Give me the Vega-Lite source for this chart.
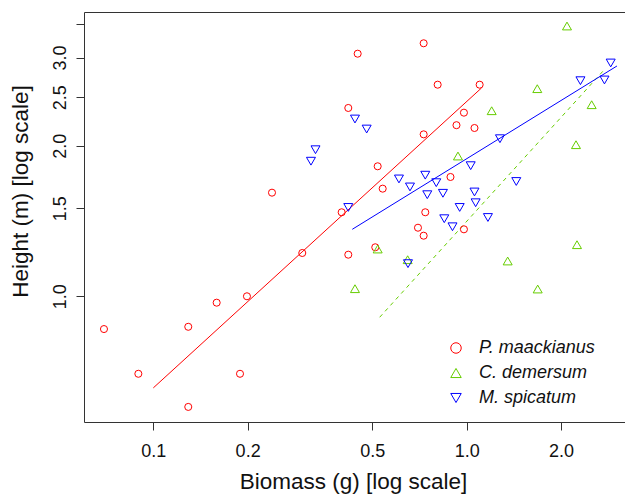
{
  "$schema": "https://vega.github.io/schema/vega-lite/v6.json",
  "width": 542,
  "height": 410,
  "autosize": {"type": "none"},
  "padding": {"left": 84, "top": 12, "right": 0, "bottom": 75},
  "background": "white",
  "config": {
    "view": {"stroke": "#333", "strokeWidth": 1},
    "font": "Liberation Sans",
    "axis": {"domain": false, "grid": false, "tickColor": "#333", "tickSize": 8, "tickWidth": 1, "labelColor": "#111", "titleColor": "#111", "labelFont": "Liberation Sans", "titleFont": "Liberation Sans", "labelFontSize": 18, "titleFontSize": 22.5, "titleFontWeight": "normal"},
    "legend": {"title": null, "orient": "none", "legendX": 363, "legendY": 327, "padding": 0, "rowPadding": 7, "labelOffset": 14, "labelFont": "Liberation Sans", "labelFontSize": 18, "labelFontStyle": "italic", "labelColor": "#111", "symbolStrokeWidth": 1, "symbolSize": 110}
  },
  "datasets": {
    "pts": [
      {"species": "P. maackianus", "biomass": 0.0696, "height": 0.860},
      {"species": "P. maackianus", "biomass": 0.0896, "height": 0.700},
      {"species": "P. maackianus", "biomass": 0.1293, "height": 0.869},
      {"species": "P. maackianus", "biomass": 0.1293, "height": 0.601},
      {"species": "P. maackianus", "biomass": 0.1593, "height": 0.971},
      {"species": "P. maackianus", "biomass": 0.1891, "height": 0.700},
      {"species": "P. maackianus", "biomass": 0.1990, "height": 1.000},
      {"species": "P. maackianus", "biomass": 0.2392, "height": 1.611},
      {"species": "P. maackianus", "biomass": 0.2988, "height": 1.2205},
      {"species": "P. maackianus", "biomass": 0.3991, "height": 1.472},
      {"species": "P. maackianus", "biomass": 0.419, "height": 1.211},
      {"species": "P. maackianus", "biomass": 0.419, "height": 2.379},
      {"species": "P. maackianus", "biomass": 0.4489, "height": 3.054},
      {"species": "P. maackianus", "biomass": 0.520, "height": 1.819},
      {"species": "P. maackianus", "biomass": 0.5109, "height": 1.253},
      {"species": "P. maackianus", "biomass": 0.5395, "height": 1.641},
      {"species": "P. maackianus", "biomass": 0.729, "height": 3.204},
      {"species": "P. maackianus", "biomass": 0.729, "height": 2.107},
      {"species": "P. maackianus", "biomass": 0.7377, "height": 1.472},
      {"species": "P. maackianus", "biomass": 0.6992, "height": 1.371},
      {"species": "P. maackianus", "biomass": 0.729, "height": 1.3216},
      {"species": "P. maackianus", "biomass": 0.808, "height": 2.648},
      {"species": "P. maackianus", "biomass": 0.8878, "height": 1.7316},
      {"species": "P. maackianus", "biomass": 0.9278, "height": 2.1977},
      {"species": "P. maackianus", "biomass": 0.980, "height": 2.328},
      {"species": "P. maackianus", "biomass": 1.059, "height": 2.1695},
      {"species": "P. maackianus", "biomass": 1.100, "height": 2.648},
      {"species": "P. maackianus", "biomass": 0.980, "height": 1.361},
      {"species": "C. demersum", "biomass": 2.0897, "height": 3.469},
      {"species": "C. demersum", "biomass": 1.680, "height": 2.600},
      {"species": "C. demersum", "biomass": 1.2017, "height": 2.349},
      {"species": "C. demersum", "biomass": 2.505, "height": 2.415},
      {"species": "C. demersum", "biomass": 2.2326, "height": 2.009},
      {"species": "C. demersum", "biomass": 0.938, "height": 1.907},
      {"species": "C. demersum", "biomass": 2.249, "height": 1.268},
      {"species": "C. demersum", "biomass": 1.3515, "height": 1.1764},
      {"species": "C. demersum", "biomass": 1.685, "height": 1.034},
      {"species": "C. demersum", "biomass": 0.520, "height": 1.243},
      {"species": "C. demersum", "biomass": 0.6482, "height": 1.1834},
      {"species": "C. demersum", "biomass": 0.4401, "height": 1.0356},
      {"species": "M. spicatum", "biomass": 0.3185, "height": 1.862},
      {"species": "M. spicatum", "biomass": 0.3293, "height": 1.963},
      {"species": "M. spicatum", "biomass": 0.419, "height": 1.505},
      {"species": "M. spicatum", "biomass": 0.4401, "height": 2.261},
      {"species": "M. spicatum", "biomass": 0.4796, "height": 2.159},
      {"species": "M. spicatum", "biomass": 0.608, "height": 1.716},
      {"species": "M. spicatum", "biomass": 0.6593, "height": 1.654},
      {"species": "M. spicatum", "biomass": 0.7377, "height": 1.746},
      {"species": "M. spicatum", "biomass": 0.7486, "height": 1.596},
      {"species": "M. spicatum", "biomass": 0.7998, "height": 1.6867},
      {"species": "M. spicatum", "biomass": 0.840, "height": 1.6064},
      {"species": "M. spicatum", "biomass": 0.8482, "height": 1.429},
      {"species": "M. spicatum", "biomass": 0.901, "height": 1.377},
      {"species": "M. spicatum", "biomass": 0.950, "height": 1.505},
      {"species": "M. spicatum", "biomass": 1.030, "height": 1.824},
      {"species": "M. spicatum", "biomass": 1.059, "height": 1.616},
      {"species": "M. spicatum", "biomass": 1.068, "height": 1.538},
      {"species": "M. spicatum", "biomass": 1.169, "height": 1.437},
      {"species": "M. spicatum", "biomass": 1.277, "height": 2.065},
      {"species": "M. spicatum", "biomass": 1.4397, "height": 1.696},
      {"species": "M. spicatum", "biomass": 2.307, "height": 2.697},
      {"species": "M. spicatum", "biomass": 2.752, "height": 2.706},
      {"species": "M. spicatum", "biomass": 2.881, "height": 2.926},
      {"species": "M. spicatum", "biomass": 0.6497, "height": 1.162}
    ],
    "fits": [
      {"species": "P. maackianus", "biomass": 0.1, "height": 0.656},
      {"species": "P. maackianus", "biomass": 1.115, "height": 2.608},
      {"species": "C. demersum", "biomass": 0.5277, "height": 0.908},
      {"species": "C. demersum", "biomass": 2.757, "height": 2.843},
      {"species": "M. spicatum", "biomass": 0.4315, "height": 1.361},
      {"species": "M. spicatum", "biomass": 3.017, "height": 2.886}
    ]
  },
  "encoding": {
    "x": {
      "field": "biomass", "type": "quantitative",
      "scale": {"type": "log", "domain": [0.0601, 3.224], "nice": false, "zero": false},
      "axis": {"values": [0.1, 0.2, 0.5, 1, 2], "labelExpr": "format(datum.value, '.1f')", "labelBaseline": "top", "labelPadding": 12, "title": "Biomass (g) [log scale]", "titleBaseline": "alphabetic", "titleX": 269, "titleY": 66, "titleAnchor": "middle", "titleAlign": "center"}
    },
    "y": {
      "field": "height", "type": "quantitative",
      "scale": {"type": "log", "domain": [0.5607, 3.7], "nice": false, "zero": false},
      "axis": {"values": [1, 1.5, 2, 2.5, 3, 3.5], "labelExpr": "datum.value == 3.5 ? '' : format(datum.value, '.1f')", "labelAngle": -90, "labelAlign": "center", "labelBaseline": "alphabetic", "labelPadding": 11, "title": "Height (m) [log scale]", "titleAngle": -90, "titleBaseline": "alphabetic", "titleAlign": "center", "titleX": -57, "titleY": 179}
    }
  },
  "layer": [
    {
      "data": {"name": "fits"},
      "transform": [{"filter": "datum.species == 'P. maackianus'"}],
      "mark": {"type": "line", "strokeWidth": 1, "color": "#ff0000"},
      "encoding": {}
    },
    {
      "data": {"name": "fits"},
      "transform": [{"filter": "datum.species == 'C. demersum'"}],
      "mark": {"type": "line", "strokeWidth": 1, "color": "#66cd00", "strokeDash": [4, 4]},
      "encoding": {}
    },
    {
      "data": {"name": "fits"},
      "transform": [{"filter": "datum.species == 'M. spicatum'"}],
      "mark": {"type": "line", "strokeWidth": 1, "color": "#0000ff"},
      "encoding": {}
    },
    {
      "data": {"name": "pts"},
      "transform": [{"filter": "datum.species == 'P. maackianus'"}],
      "mark": {"type": "point", "filled": false, "strokeWidth": 1, "opacity": 1, "size": 50},
      "encoding": {
        "color": {"field": "species", "type": "nominal", "scale": {"domain": ["P. maackianus", "C. demersum", "M. spicatum"], "range": ["#ff0000", "#66cd00", "#0000ff"]}},
        "shape": {"field": "species", "type": "nominal", "scale": {"domain": ["P. maackianus", "C. demersum", "M. spicatum"], "range": ["circle", "triangle-up", "triangle-down"]}}
      }
    },
    {
      "data": {"name": "pts"},
      "transform": [{"filter": "datum.species != 'P. maackianus'"}],
      "mark": {"type": "point", "filled": false, "strokeWidth": 1, "opacity": 1, "size": 81},
      "encoding": {
        "color": {"field": "species", "type": "nominal", "scale": {"domain": ["P. maackianus", "C. demersum", "M. spicatum"], "range": ["#ff0000", "#66cd00", "#0000ff"]}},
        "shape": {"field": "species", "type": "nominal", "scale": {"domain": ["P. maackianus", "C. demersum", "M. spicatum"], "range": ["circle", "triangle-up", "triangle-down"]}}
      }
    }
  ]
}
